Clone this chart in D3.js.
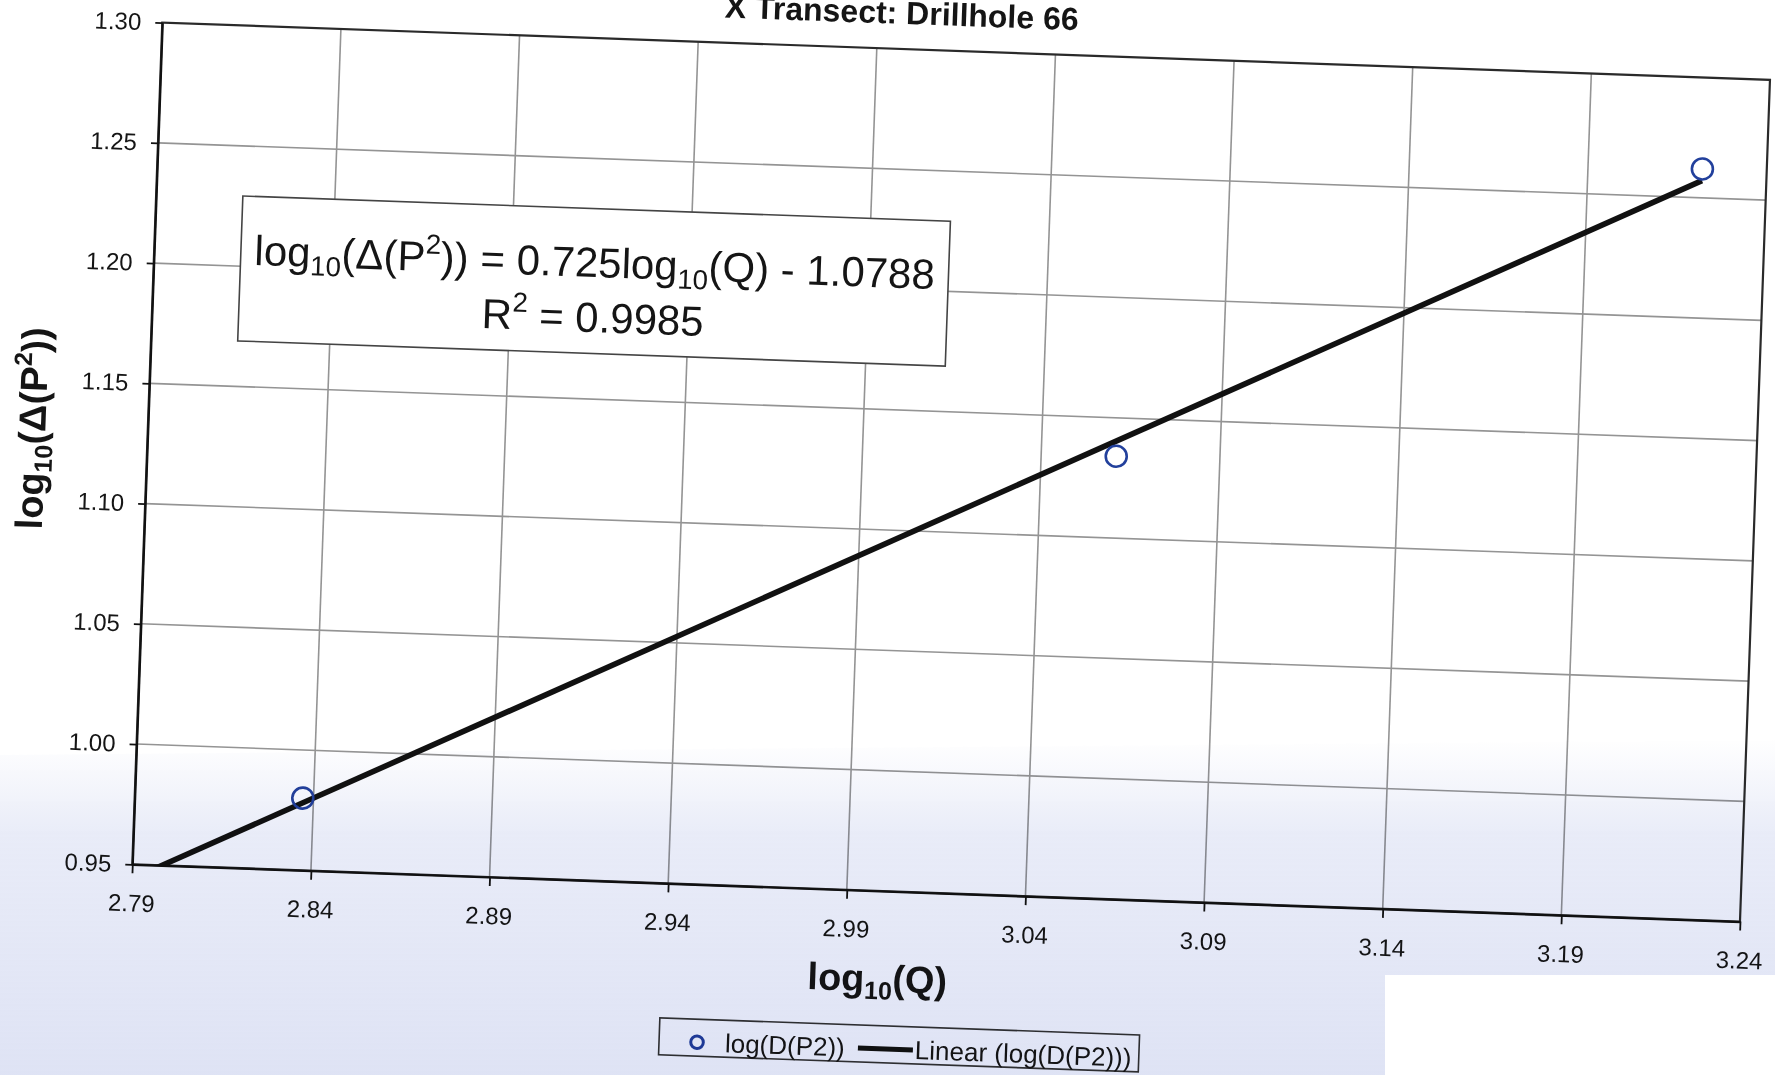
<!DOCTYPE html>
<html>
<head>
<meta charset="utf-8">
<script src="https://cdn.jsdelivr.net/npm/d3@7"></script>
<style>
  html, body { margin: 0; padding: 0; background: #fff; }
  svg { display: block; }
  text { font-family: "Liberation Sans", Arial, Helvetica, sans-serif; fill: #151515; white-space: pre; }
</style>
</head>
<body>
<svg id="chart" width="1775" height="1075"></svg>
<script>
// ---- data ----
const logQ   = [2.837, 3.061, 3.222];      // log10(Q)
const logDP2 = [0.980, 1.134, 1.262];      // log10(Δ(P²))
const fitSlope = 0.725;
const fitIntercept = -1.0788;
const rSquared = 0.9985;
const xTicks = [2.79, 2.84, 2.89, 2.94, 2.99, 3.04, 3.09, 3.14, 3.19, 3.24];
const yTicks = [0.95, 1.00, 1.05, 1.10, 1.15, 1.20, 1.25, 1.30];
const titleText = "X Transect: Drillhole 66";
const seriesName = "log(D(P2))";
const fitName = "Linear (log(D(P2)))";

// ---- layout ----
const W = 1775, H = 1075;
const plot = { left: 132.3, top: 22.1, right: 1741, bottom: 864.3 };
const tilt = 2.04;            // the printed sheet sits slightly askew
const markerColor = "#22409c";

const svg = d3.select("#chart");
const defs = svg.append("defs");

const x = d3.scaleLinear().domain([xTicks[0], xTicks[xTicks.length - 1]]).range([plot.left, plot.right]);
const y = d3.scaleLinear().domain([yTicks[0], yTicks[yTicks.length - 1]]).range([plot.bottom, plot.top]);

defs.append("clipPath").attr("id", "plotClip")
  .append("rect")
  .attr("x", plot.left).attr("y", plot.top)
  .attr("width", plot.right - plot.left).attr("height", plot.bottom - plot.top);

const g = svg.append("g")
  .attr("transform", `rotate(${tilt},${plot.left},${plot.bottom})`);

// Rich text helper: parts are [text, kind] with kind '', 'sub' or 'sup'
function rich(sel, parts, size) {
  let shift = 0;
  parts.forEach(([t, kind]) => {
    const target = kind === "sub" ? 0.2 * size : kind === "sup" ? -0.42 * size : 0;
    const ts = sel.append("tspan").text(t).attr("dy", target - shift);
    if (kind) ts.attr("font-size", 0.66 * size);
    shift = target;
  });
}

// title (its upper part runs off the sheet)
g.append("text")
  .attr("x", 871).attr("y", -3)
  .attr("text-anchor", "middle")
  .attr("font-size", 32).attr("font-weight", "bold")
  .text(titleText);

// plot background
g.append("rect")
  .attr("x", plot.left).attr("y", plot.top)
  .attr("width", plot.right - plot.left).attr("height", plot.bottom - plot.top)
  .attr("fill", "#fff");

// gridlines
g.append("g").selectAll("line").data(yTicks.slice(1, -1)).join("line")
  .attr("x1", plot.left).attr("x2", plot.right)
  .attr("y1", d => y(d)).attr("y2", d => y(d))
  .attr("stroke", "#949494").attr("stroke-width", 1.6);
g.append("g").selectAll("line").data(xTicks.slice(1, -1)).join("line")
  .attr("y1", plot.top).attr("y2", plot.bottom)
  .attr("x1", d => x(d)).attr("x2", d => x(d))
  .attr("stroke", "#949494").attr("stroke-width", 1.6);

// plot border
g.append("rect")
  .attr("x", plot.left).attr("y", plot.top)
  .attr("width", plot.right - plot.left).attr("height", plot.bottom - plot.top)
  .attr("fill", "none").attr("stroke", "#2a2a2a").attr("stroke-width", 2.2);

// axes
const fmt = d3.format(".2f");
const xAxis = g.append("g")
  .attr("transform", `translate(0,${plot.bottom})`)
  .call(d3.axisBottom(x).tickValues(xTicks).tickFormat(fmt)
    .tickSizeInner(9).tickSizeOuter(0).tickPadding(21));
const yAxis = g.append("g")
  .attr("transform", `translate(${plot.left},0)`)
  .call(d3.axisLeft(y).tickValues(yTicks).tickFormat(fmt)
    .tickSizeInner(7).tickSizeOuter(0).tickPadding(14));
[xAxis, yAxis].forEach(ax => {
  ax.attr("font-family", null).attr("font-size", null);
  ax.select(".domain").attr("stroke", "#111").attr("stroke-width", 2.2);
  ax.selectAll(".tick line").attr("stroke", "#111").attr("stroke-width", 1.8);
  ax.selectAll(".tick text").attr("font-size", 24).attr("fill", "#1a1a1a");
});

// linear fit, drawn from the stated equation
const fitX = [xTicks[0], d3.max(logQ)];
g.append("path")
  .attr("clip-path", "url(#plotClip)")
  .attr("d", d3.line().x(d => x(d)).y(d => y(fitSlope * d + fitIntercept))(fitX))
  .attr("fill", "none").attr("stroke", "#111").attr("stroke-width", 5.6)
  .attr("stroke-linecap", "butt");

// observations
g.append("g").selectAll("circle").data(d3.zip(logQ, logDP2)).join("circle")
  .attr("cx", d => x(d[0])).attr("cy", d => y(d[1]))
  .attr("r", 10.5)
  .attr("fill", "none").attr("stroke", markerColor).attr("stroke-width", 2.6);

// equation box
g.append("rect")
  .attr("x", 219).attr("y", 192.5).attr("width", 708).attr("height", 145)
  .attr("fill", "#fff").attr("stroke", "#444").attr("stroke-width", 1.6);
const eqSize = 42;
const sign = fitIntercept < 0 ? " - " : " + ";
rich(g.append("text").attr("x", 573).attr("y", 261).attr("text-anchor", "middle").attr("font-size", eqSize),
  [["log", ""], ["10", "sub"], ["(\u0394(P", ""], ["2", "sup"],
   [`)) = ${fitSlope}log`, ""], ["10", "sub"], [`(Q)${sign}${Math.abs(fitIntercept)}`, ""]], eqSize);
rich(g.append("text").attr("x", 573).attr("y", 316).attr("text-anchor", "middle").attr("font-size", eqSize),
  [["R", ""], ["2", "sup"], [` = ${rSquared}`, ""]], eqSize);

// axis titles
const axSize = 38;
rich(g.append("text").attr("x", 881).attr("y", 965).attr("text-anchor", "middle")
  .attr("font-size", axSize).attr("font-weight", "bold"),
  [["log", ""], ["10", "sub"], ["(Q)", ""]], axSize);
rich(g.append("text").attr("transform", "translate(30,432) rotate(-90)").attr("text-anchor", "middle")
  .attr("font-size", axSize).attr("font-weight", "bold"),
  [["log", ""], ["10", "sub"], ["(\u0394(P", ""], ["2", "sup"], ["))", ""]], axSize);

// legend
const lg = g.append("g");
lg.append("rect").attr("x", 665).attr("y", 999).attr("width", 480).attr("height", 37)
  .attr("fill", "#fff").attr("stroke", "#333").attr("stroke-width", 1.6);
lg.append("circle").attr("cx", 703).attr("cy", 1022).attr("r", 6.3)
  .attr("fill", "none").attr("stroke", markerColor).attr("stroke-width", 3);
lg.append("text").attr("x", 731).attr("y", 1031).attr("font-size", 26).text(seriesName);
lg.append("line").attr("x1", 864).attr("x2", 919).attr("y1", 1022).attr("y2", 1022)
  .attr("stroke", "#111").attr("stroke-width", 5);
lg.append("text").attr("x", 921).attr("y", 1031).attr("font-size", 26).text(fitName);

// bluish copier tint across the lower part of the sheet
const grad = defs.append("linearGradient").attr("id", "tint")
  .attr("x1", 0).attr("y1", 0).attr("x2", 0).attr("y2", 1);
grad.append("stop").attr("offset", "0%").attr("stop-color", "rgb(196,204,236)").attr("stop-opacity", 0);
grad.append("stop").attr("offset", "28%").attr("stop-color", "rgb(196,204,236)").attr("stop-opacity", 0.38);
grad.append("stop").attr("offset", "100%").attr("stop-color", "rgb(196,204,236)").attr("stop-opacity", 0.55);
svg.append("path")
  .attr("d", `M0,755 L${W},740 L${W},975 L1385,975 L1385,${H} L0,${H} Z`)
  .attr("fill", "url(#tint)")
  .style("mix-blend-mode", "multiply")
  .attr("pointer-events", "none");
</script>
</body>
</html>
